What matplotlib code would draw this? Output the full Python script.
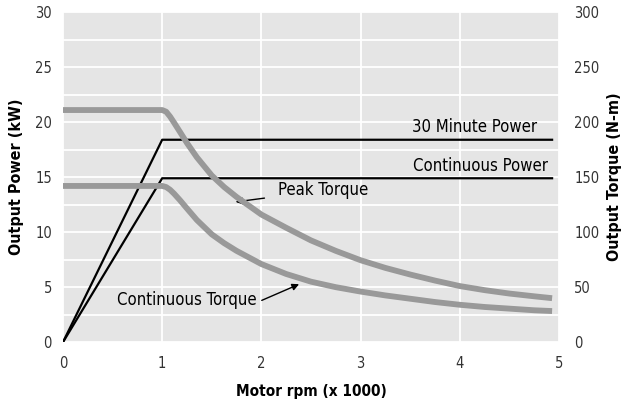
import numpy as np
import matplotlib
matplotlib.use('Agg')
import matplotlib.pyplot as plt

plt.rcParams['font.family'] = ['DejaVu Sans']
plt.rcParams['font.stretch'] = 'condensed'

# power curves (kW)
rpm_power = [0, 1.0, 4.93]
power_30min = [0, 18.4, 18.4]
power_cont = [0, 14.9, 14.9]

# torque curves (N-m)
rpm_torque = [0, 1.0, 1.04, 1.08, 1.12, 1.18, 1.25, 1.35, 1.5, 1.625, 1.75, 2.0, 2.25,
              2.5, 2.75, 3.0, 3.25, 3.5, 3.75, 4.0, 4.25, 4.5, 4.75, 4.93]
torque_peak = [211, 211, 209.5, 205, 199.5, 191, 181, 168, 151.5, 141, 132, 116, 104,
               92.5, 83, 74.5, 67.5, 61.5, 56, 51, 47.3, 44.2, 41.7, 40]
torque_cont = [142, 142, 141, 138.5, 135, 129, 121.5, 111, 98, 90, 83, 71, 62,
               55, 50, 46, 42.5, 39.5, 36.5, 34, 32, 30.5, 29, 28.3]

fig = plt.figure(figsize=(6.36, 4.04), dpi=100)
ax = fig.add_axes([0.099, 0.153, 0.780, 0.817])
ax2 = ax.twinx()

ax.set_facecolor('#e5e5e5')
ax.set_xlim(0, 5)
ax.set_ylim(0, 30)
ax2.set_ylim(0, 300)

ax.set_xticks([0, 1, 2, 3, 4, 5])
ax.set_yticks([0, 5, 10, 15, 20, 25, 30])
ax.set_yticks(np.arange(0, 30.1, 2.5), minor=True)
ax2.set_yticks([0, 50, 100, 150, 200, 250, 300])
ax.grid(True, which='both', axis='y', color='white', lw=1.3)
ax.grid(True, which='major', axis='x', color='white', lw=1.3)
ax.set_axisbelow(True)

for a in (ax, ax2):
    for s in a.spines.values():
        s.set_visible(False)
ax.tick_params(which='both', length=0, labelsize=10.5, colors='#333333')
ax.tick_params(axis='y', pad=8)
ax.tick_params(axis='x', pad=10)
ax2.tick_params(length=0, labelsize=10.5, colors='#333333', pad=11)

ax2.plot(rpm_torque, torque_peak, color='#999999', lw=4.2, solid_capstyle='butt', solid_joinstyle='round')
ax2.plot(rpm_torque, torque_cont, color='#999999', lw=4.2, solid_capstyle='butt', solid_joinstyle='round')
ax.plot(rpm_power, power_30min, color='black', lw=1.6, zorder=3)
ax.plot(rpm_power, power_cont, color='black', lw=1.6, zorder=3)

ax.set_xlabel('Motor rpm (x 1000)', fontsize=11, fontweight='bold', labelpad=9)
ax.set_ylabel('Output Power (kW)', fontsize=11.5, fontweight='bold', labelpad=8)
ax2.set_ylabel('Output Torque (N-m)', fontsize=11.5, fontweight='bold', labelpad=5)

ax.text(4.78, 19.1, '30 Minute Power', ha='right', va='baseline', fontsize=12)
ax.text(4.89, 15.6, 'Continuous Power', ha='right', va='baseline', fontsize=12)
ax.annotate('Peak Torque', xy=(1.74, 12.75), xytext=(2.17, 13.8),
            ha='left', va='center', fontsize=12,
            arrowprops=dict(arrowstyle='-|>', color='black', lw=1, mutation_scale=10,
                            shrinkA=8, shrinkB=0))
ax.annotate('Continuous Torque', xy=(2.38, 5.27), xytext=(0.54, 3.8),
            ha='left', va='center', fontsize=12,
            arrowprops=dict(arrowstyle='-|>', color='black', lw=1, mutation_scale=10,
                            shrinkA=0, shrinkB=0, relpos=(1.04, 0.5)))

fig.savefig('out.png', dpi=100)
